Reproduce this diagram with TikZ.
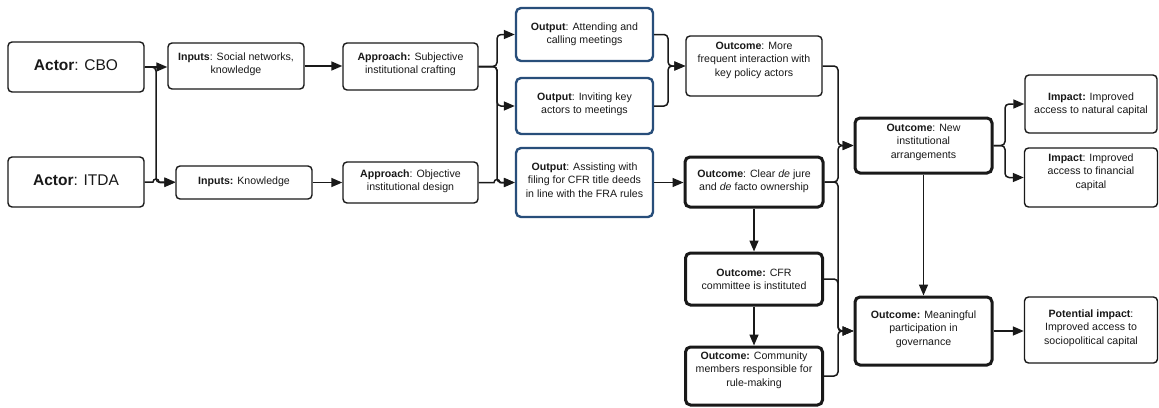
\documentclass[tikz,border=0pt]{standalone}
\usepackage{fontspec}
\setmainfont{Liberation Sans}
\usetikzlibrary{arrows.meta,calc}

\definecolor{ink}{RGB}{25,25,25}
\definecolor{outblue}{RGB}{40,78,122}

\tikzset{
  plainbox/.style={draw=ink, line width=1.4pt, rounded corners=4pt, inner sep=0pt},
  heavybox/.style={draw=ink, line width=3pt, rounded corners=5pt, inner sep=0pt},
  outputbox/.style={draw=outblue, line width=2.4pt, rounded corners=5pt, inner sep=0pt},
  txt/.style={align=center, text=ink, inner sep=0pt, font=\fontsize{10.6}{13.4}\selectfont},
  actortxt/.style={align=center, text=ink, inner sep=0pt, font=\fontsize{15.5}{18}\selectfont},
  conn/.style={draw=ink, line width=1.5pt, rounded corners=4pt, -{Triangle[length=11pt,width=9pt]}},
}

\begin{document}
\begin{tikzpicture}[x=1pt, y=-1pt]
\fill[white] (0,0) rectangle (1159,407);
\useasboundingbox (0,0) rectangle (1159,407);

% actors
\node[plainbox, minimum width=136pt, minimum height=50pt] (cbo) at (76,67) {};
\node[actortxt] (cbo-t) at (76,65) {\textbf{Actor}: CBO};
\node[plainbox, minimum width=136pt, minimum height=50pt] (itda) at (76,182) {};
\node[actortxt] (itda-t) at (76,180) {\textbf{Actor}: ITDA};

% inputs
\node[plainbox, minimum width=136pt, minimum height=46pt] (in1) at (236,66) {};
\node[txt] (in1-t) at (236,64) {\textbf{Inputs}: Social networks,\\knowledge};
\node[plainbox, minimum width=136pt, minimum height=33pt] (in2) at (244,182.5) {};
\node[txt] (in2-t) at (244,182) {\textbf{Inputs:} Knowledge};

% approaches
\node[plainbox, minimum width=135pt, minimum height=47pt] (ap1) at (410.5,66.5) {};
\node[txt] (ap1-t) at (410.5,64) {\textbf{Approach:} Subjective\\institutional crafting};
\node[plainbox, minimum width=135pt, minimum height=41pt] (ap2) at (410.5,182.5) {};
\node[txt] (ap2-t) at (410.5,181.5) {\textbf{Approach}: Objective\\institutional design};

% outputs
\node[outputbox, minimum width=137pt, minimum height=53pt] (out1) at (584.5,34.5) {};
\node[txt] (out1-t) at (584.5,34) {\textbf{Output}: Attending and\\calling meetings};
\node[outputbox, minimum width=137pt, minimum height=56pt] (out2) at (584.5,106) {};
\node[txt] (out2-t) at (584.5,104.5) {\textbf{Output}: Inviting key\\actors to meetings};
\node[outputbox, minimum width=137pt, minimum height=69pt] (out3) at (584.5,182.5) {};
\node[txt] (out3-t) at (584.5,180) {\textbf{Output}: Assisting with\\filing for CFR title deeds\\in line with the FRA rules};

% outcomes
\node[plainbox, minimum width=136pt, minimum height=60pt] (oc1) at (754,66) {};
\node[txt] (oc1-t) at (754,60) {\textbf{Outcome}: More\\frequent interaction with\\key policy actors};
\node[heavybox, minimum width=138pt, minimum height=50pt] (oc2) at (754,182) {};
\node[txt] (oc2-t) at (754,181.5) {\textbf{Outcome}: Clear \textit{de} jure\\and \textit{de} facto ownership};
\node[heavybox, minimum width=137pt, minimum height=52pt] (oc3) at (754,279) {};
\node[txt] (oc3-t) at (754,279.5) {\textbf{Outcome:} CFR\\committee is instituted};
\node[heavybox, minimum width=137pt, minimum height=58pt] (oc4) at (754,376) {};
\node[txt] (oc4-t) at (754,370) {\textbf{Outcome:} Community\\members responsible for\\rule-making};
\node[heavybox, minimum width=137pt, minimum height=55pt] (oc5) at (923.5,145.5) {};
\node[txt] (oc5-t) at (923.5,142) {\textbf{Outcome}: New\\institutional\\arrangements};
\node[heavybox, minimum width=137pt, minimum height=68pt] (oc6) at (923.5,331) {};
\node[txt] (oc6-t) at (923.5,329) {\textbf{Outcome:} Meaningful\\participation in\\governance};

% impacts
\node[plainbox, minimum width=132pt, minimum height=58pt] (im1) at (1091,104) {};
\node[txt] (im1-t) at (1091,104) {\textbf{Impact:} Improved\\access to natural capital};
\node[plainbox, minimum width=133pt, minimum height=59pt] (im2) at (1091,177.5) {};
\node[txt] (im2-t) at (1091,172) {\textbf{Impact}: Improved\\access to financial\\capital};
\node[plainbox, minimum width=133pt, minimum height=66pt] (pot) at (1091,330) {};
\node[txt] (pot-t) at (1091,328) {\textbf{Potential impact}:\\Improved access to\\sociopolitical capital};

% branch lines
\coordinate (j1) at (156,0);
\coordinate (j2) at (497,0);
\coordinate (j3) at (668,0);
\coordinate (j4) at (838,0);
\coordinate (j5) at (1005,0);

% actors to inputs
\draw[conn] (cbo.east) -- (cbo.east -| in1.west);
\draw[conn] (cbo.east) -| (in2.west -| j1) -- (in2.west);
\draw[conn, sharp corners] (itda.east) -- ($(j1 |- itda.east)+(-3pt,0pt)$)
  arc[start angle=180, end angle=0, radius=3pt] -- (itda.east -| in2.west);

% inputs to approaches
\draw[conn] (in1.east) -- (in1.east -| ap1.west);
\draw[conn] (in2.east) -- (in2.east -| ap2.west);

% approaches to outputs
\draw[conn] (ap1.east) -| (out1.west -| j2) -- (out1.west);
\draw[conn] (ap1.east) -| (out2.west -| j2) -- (out2.west);
\draw[conn] (ap1.east) -| (out3.west -| j2) -- (out3.west);
\draw[conn, sharp corners] (ap2.east) -- ($(j2 |- ap2.east)+(-3pt,0pt)$)
  arc[start angle=180, end angle=0, radius=3pt] -- (ap2.east -| out3.west);

% outputs to outcomes
\draw[conn] (out1.east) -| (oc1.west -| j3) -- (oc1.west);
\draw[conn] (out2.east) -| (oc1.west -| j3) -- (oc1.west);
\draw[conn] (out3.east) -- (out3.east -| oc2.west);

% outcome chain
\draw[conn] (oc2.south) -- (oc3.north);
\draw[conn] (oc3.south) -- (oc4.north);
\draw[conn] (oc1.east) -| (oc5.west -| j4) -- (oc5.west);
\draw[conn] (oc2.east) -| (oc5.west -| j4) -- (oc5.west);
\draw[conn] (oc2.east) -| (oc6.west -| j4) -- (oc6.west);
\draw[conn] (oc3.east) -| (oc6.west -| j4) -- (oc6.west);
\draw[conn] (oc4.east) -| (oc6.west -| j4) -- (oc6.west);
\draw[conn] (oc5.south) -- (oc6.north);

% outcomes to impacts
\draw[conn] (oc5.east) -| (im1.west -| j5) -- (im1.west);
\draw[conn] (oc5.east) -| (im2.west -| j5) -- (im2.west);
\draw[conn] (oc6.east) -- (oc6.east -| pot.west);
\end{tikzpicture}
\end{document}
